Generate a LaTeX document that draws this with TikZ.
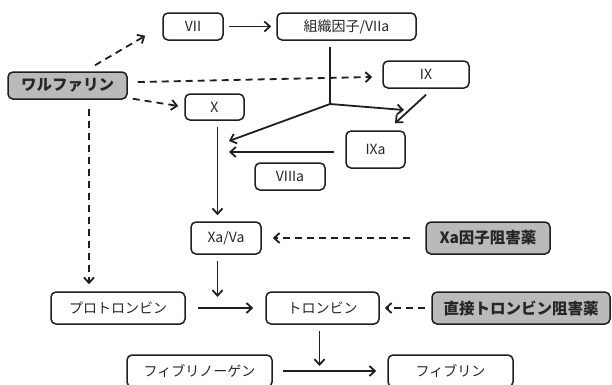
\documentclass[tikz,border=0pt]{standalone}
\usepackage{fontspec}
\setmainfont{Noto Sans CJK JP}
\usetikzlibrary{arrows.meta}
\begin{document}
\begin{tikzpicture}[x=1pt,y=-1pt,
  box/.style={draw=black!88, line width=1.5pt, rounded corners=5pt, inner sep=0pt, font=\fontsize{14}{16}\selectfont, text=black!85},
  gbox/.style={box, fill=black!27, font=\fontsize{15.5}{17}\selectfont\bfseries},
  arr/.style={draw=black!88, line width=1.8pt, -{Straight Barb[length=5.5pt,width=10pt]}},
  darr/.style={arr, dash pattern=on 7pt off 5pt},
  ln/.style={draw=black!88, line width=1.8pt}]
\useasboundingbox (0,0) rectangle (612,384);
\clip (0,0) rectangle (612,384);
% nodes
\node[box, minimum width=60pt, minimum height=27pt] (vii) at (193,26.5) {VII};
\node[box, minimum width=139pt, minimum height=27pt] (tf) at (346.5,26.5) {組織因子/VIIa};
\node[gbox, minimum width=119pt, minimum height=27pt] (warf) at (67.5,85.5) {ワルファリン};
\node[box, minimum width=59pt, minimum height=26pt] (x) at (214.5,107) {X};
\node[box, minimum width=86pt, minimum height=27pt] (ix) at (426,74.5) {IX};
\node[box, minimum width=59pt, minimum height=37pt] (ixa) at (375.5,149.5) {IXa};
\node[box, minimum width=70pt, minimum height=27pt] (viiia) at (290,176.5) {VIIIa};
\node[box, minimum width=70pt, minimum height=32pt] (xava) at (226,238) {Xa/Va};
\node[gbox, minimum width=124pt, minimum height=32pt] (xainh) at (488,238) {Xa因子阻害薬};
\node[box, minimum width=134pt, minimum height=32pt] (pro) at (118,308) {プロトロンビン};
\node[box, minimum width=113pt, minimum height=32pt] (thr) at (322.5,308) {トロンビン};
\node[gbox, minimum width=178pt, minimum height=32pt] (dti) at (521,308) {直接トロンビン阻害薬};
\node[box, minimum width=145pt, minimum height=32pt] (fbg) at (199.5,371) {フィブリノーゲン};
\node[box, minimum width=125pt, minimum height=32pt] (fbn) at (450.5,371) {フィブリン};
% coordinates
\coordinate (wx) at (89,0);
\coordinate (j) at (330,104);
\coordinate (xin1) at (229,141);
\coordinate (xin2) at (229,152);
\coordinate (ixain) at (404,110);
\coordinate (vx) at (217.5,0);
\coordinate (pa) at (217.5,297);
\coordinate (tx) at (319.5,0);
\coordinate (fa) at (319.5,366);
% connectors
\draw[arr] ([xshift=5pt]vii.east) -- ([xshift=-5pt]tf.west);
\draw[darr] ([xshift=27.5pt,yshift=6pt]warf.north) -- ([xshift=-17pt,yshift=5pt]vii.south west);
\draw[darr] ([xshift=10pt,yshift=3.5pt]warf.east) -- ([xshift=-10pt,yshift=-2.5pt]ix.west);
\draw[darr] ([xshift=5pt,yshift=1pt]warf.south east) -- ([xshift=-6pt,yshift=1pt]x.west);
\draw[darr] ([yshift=-9pt]warf.south -| wx) -- ([yshift=7pt]pro.north -| wx);
\draw[ln] ([yshift=-6pt]tf.south -| j) -- (j);
\draw[arr] (j) -- (xin1);
\draw[arr] (j) -- (ixain);
\draw[arr] ([yshift=-6pt]ix.south) -- ([xshift=19.5pt,yshift=7pt]ixa.north);
\draw[arr] ([xshift=-11pt]ixa.west |- xin2) -- (xin2);
\draw[arr] ([yshift=-6pt]x.south -| vx) -- ([yshift=6pt]xava.north -| vx);
\draw[darr] ([xshift=-15pt]xainh.west) -- ([xshift=11pt]xava.east);
\draw[arr] ([yshift=-6pt]xava.south -| vx) -- (pa);
\draw[arr] ([xshift=12pt]pro.east) -- ([xshift=-12pt]thr.west);
\draw[darr] ([xshift=-6pt]dti.west) -- ([xshift=5pt]thr.east);
\draw[arr] ([yshift=-6pt]thr.south -| tx) -- (fa);
\draw[arr] ([xshift=10pt]fbg.east) -- ([xshift=-11pt]fbn.west);
\end{tikzpicture}
\end{document}
